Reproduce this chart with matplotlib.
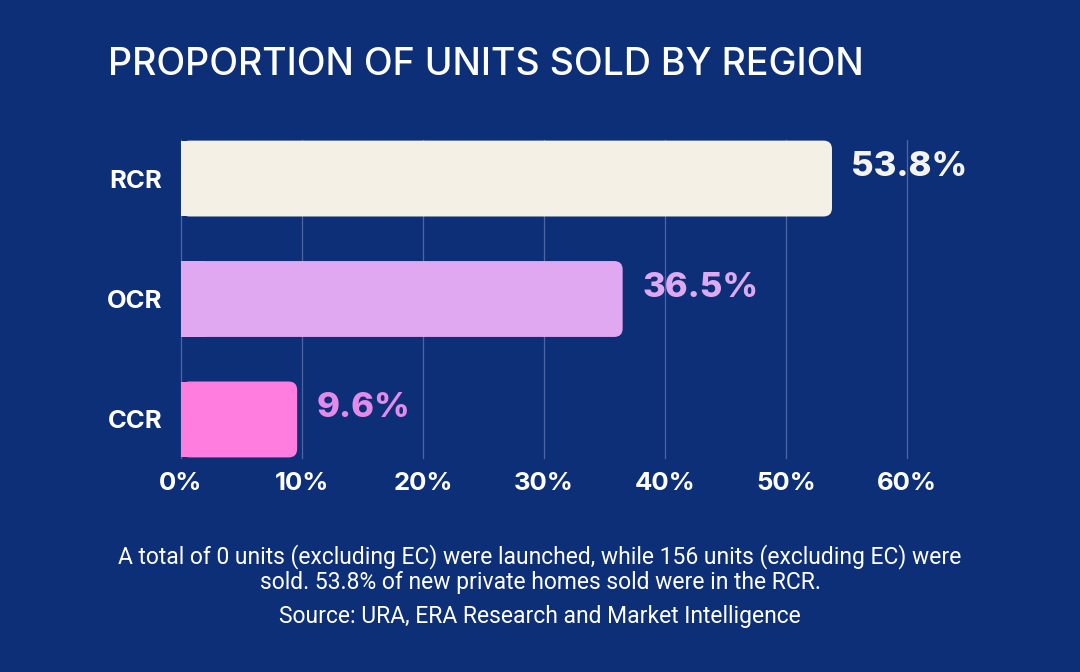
import matplotlib.pyplot as plt
from matplotlib.patches import FancyBboxPatch

regions = ['CCR', 'OCR', 'RCR']
shares = [9.6, 36.5, 53.8]
bar_colors = ['#ff7ddf', '#e0a8f0', '#f5f0e6']
label_colors = ['#e38be9', '#ddaaf2', '#f5f3ee']
xticks = [0, 10, 20, 30, 40, 50, 60]

bg = '#0d2f78'
grid_c = '#4d66a3'

fig = plt.figure(figsize=(10.8, 6.72), dpi=100, facecolor=bg)
ax = fig.add_axes([181 / 1080, 1 - 458 / 672, 726 / 1080, 318 / 672])
ax.set_facecolor(bg)
ax.set_xlim(0, 60)
ax.set_ylim(-0.32, 2.32)

for x in xticks:
    ax.plot([x, x], [-0.32, 2.32], color=grid_c, lw=0.9, zorder=0, clip_on=False)

h = 0.63
for i, (v, c) in enumerate(zip(shares, bar_colors)):
    # rounded right end, square left end
    ax.add_patch(FancyBboxPatch((0, i - h / 2), v, h,
                                boxstyle='round,pad=0,rounding_size=0.7',
                                mutation_aspect=0.1, fc=c, ec='none', zorder=2))
    ax.add_patch(plt.Rectangle((0, i - h / 2), min(v, 2), h, fc=c, ec='none', zorder=2))
    ax.annotate(f'{v}%', (v, i), xytext=(14, 8), textcoords='offset points',
                ha='left', va='center', fontsize=25, fontweight='heavy',
                color=label_colors[i], family=['Inter', 'DejaVu Sans'], zorder=3)

ax.set_yticks(range(len(regions)))
ax.set_yticklabels(regions)
ax.set_xticks(xticks)
ax.set_xticklabels([f'{x}%' for x in xticks])
ax.tick_params(length=0, colors='white', labelsize=18.5)
ax.tick_params(axis='x', pad=10)
ax.tick_params(axis='y', pad=13.5)
for t in ax.get_xticklabels() + ax.get_yticklabels():
    t.set_fontweight('bold')
    t.set_family(['Inter', 'DejaVu Sans'])
for s in ax.spines.values():
    s.set_visible(False)

fig.text(108 / 1080, 1 - 65 / 672, 'PROPORTION OF UNITS SOLD BY REGION',
         color='white', fontsize=27, fontweight='medium', va='center', ha='left',
         family=['Inter', 'DejaVu Sans'])

note = ('A total of 0 units (excluding EC) were launched, while 156 units (excluding EC) were\n'
        'sold. 53.8% of new private homes sold were in the RCR.')
fig.text(0.5, 1 - 569 / 672, note, color='white', fontsize=16.5, ha='center', va='center',
         linespacing=1.15, family=['Roboto', 'DejaVu Sans'])
fig.text(0.5, 1 - 617 / 672, 'Source: URA, ERA Research and Market Intelligence',
         color='white', fontsize=16.5, ha='center', va='center', family=['Roboto', 'DejaVu Sans'])

fig.savefig('out.png', dpi=100, facecolor=bg)
